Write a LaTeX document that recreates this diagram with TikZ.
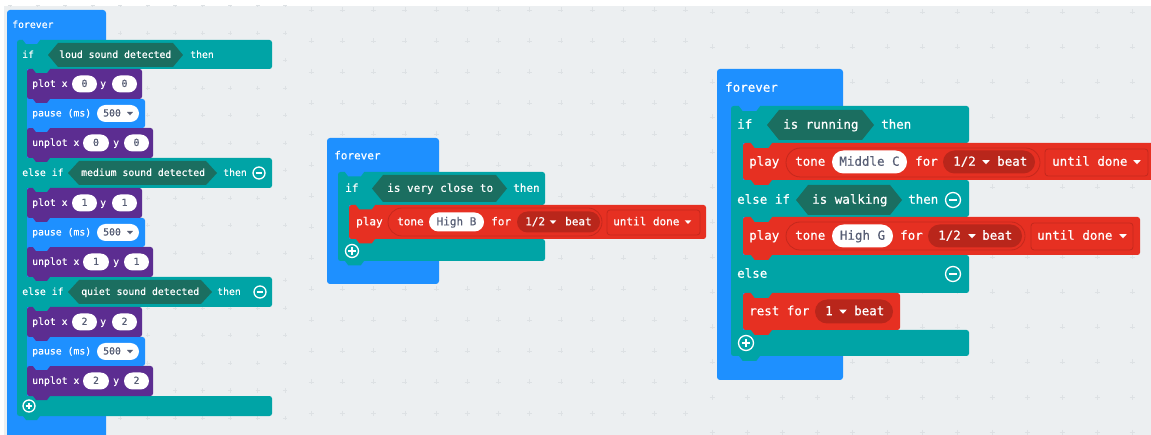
\documentclass[tikz,border=0pt]{standalone}
\usepackage{fontspec}
\setmonofont{DejaVu Sans Mono}
\newfontfamily\blkfont[FakeBold=0.5]{DejaVu Sans Mono}
\definecolor{bg}{HTML}{ECEFF1}
\definecolor{gridmk}{HTML}{DDE1E4}
\definecolor{fblue}{HTML}{1E90FF}
\definecolor{lteal}{HTML}{00A4A6}
\definecolor{hexc}{HTML}{1B6E60}
\definecolor{ledp}{HTML}{5C2D91}
\definecolor{mred}{HTML}{E63022}
\definecolor{mdark}{HTML}{B9261B}
\definecolor{mline}{HTML}{C4281D}
\definecolor{pilltxt}{HTML}{575E75}
\tikzset{
 tL/.style={font=\fontsize{9.8}{11}\blkfont, text=white, anchor=west, inner sep=0pt, text height=5.9pt, text depth=0pt},
 tM/.style={font=\fontsize{11}{12}\blkfont, text=white, anchor=west, inner sep=0pt, text height=6.6pt, text depth=0pt},
 tR/.style={font=\fontsize{12.5}{14}\blkfont, text=white, anchor=west, inner sep=0pt, text height=7.5pt, text depth=0pt},
 gL/.style={tL, text=pilltxt, anchor=center},
 gM/.style={tM, text=pilltxt, anchor=center},
 gR/.style={tR, text=pilltxt, anchor=center},
 gridmark/.style={draw=gridmk, line width=0.6pt},
 outl/.style={fill=mred, draw=mline, line width=0.8pt}
}
% tab below a block: color, x, y (bottom edge), width, depth
\newcommand{\mkTab}[5]{\fill[#1] (#2,#3-1) -- (#2,#3) -- ({#2+0.75*#5},{#3+#5}) -- ({#2+#4-0.75*#5},{#3+#5}) -- ({#2+#4},#3) -- ({#2+#4},#3-1) -- cycle;}
% block: color, x1, y1, x2, y2, tab offset, tab width, tab depth
\newcommand{\mkBlk}[8]{\fill[#1,rounded corners=2.5pt] (#2,#3) rectangle (#4,#5);\mkTab{#1}{#2+#6}{#5}{#7}{#8}}
% pill: color, x1, x2, ymid, half height
\newcommand{\mkPill}[5]{\fill[#1,rounded corners=#5pt] (#2,{#4-#5}) rectangle (#3,{#4+#5});}
% triangle: x, y, half width, color
\newcommand{\mkTri}[4]{\fill[#4] ({#1-#3},{#2-0.5*#3}) -- ({#1+#3},{#2-0.5*#3}) -- (#1,{#2+0.6*#3}) -- cycle;}
% hexagon: xl, xr, y1, y2, d
\newcommand{\mkHex}[5]{\fill[hexc] (#1,{(#3+#4)/2}) -- ({#1+#5},#3) -- ({#2-#5},#3) -- (#2,{(#3+#4)/2}) -- ({#2-#5},#4) -- ({#1+#5},#4) -- cycle;}
\newcommand{\mkMinus}[3]{\draw[white,line width=1.3pt] (#1,#2) circle[radius=#3pt];\draw[white,line width=1.5pt] ({#1-0.55*#3},#2) -- ({#1+0.55*#3},#2);}
\newcommand{\mkPlus}[3]{\mkMinus{#1}{#2}{#3}\draw[white,line width=1.5pt] (#1,{#2-0.55*#3}) -- (#1,{#2+0.55*#3});}
% left rows
\newcommand{\plotL}[3]{%
 \node[tL] (#3l) at (32,#1) {plot x};
 \mkPill{white}{72}{97}{#1}{8.5}
 \node[gL] (#3x) at (84.5,#1) {#2};
 \node[tL] (#3y) at (100,#1) {y};
 \mkPill{white}{112}{137}{#1}{8.5}
 \node[gL] (#3v) at (124.5,#1) {#2};}
\newcommand{\unplotL}[3]{%
 \node[tL] (#3l) at (32,#1) {unplot x};
 \mkPill{white}{83}{109}{#1}{8.5}
 \node[gL] (#3x) at (96,#1) {#2};
 \node[tL] (#3y) at (113,#1) {y};
 \mkPill{white}{124}{149}{#1}{8.5}
 \node[gL] (#3v) at (136.5,#1) {#2};}
\newcommand{\pauseL}[2]{%
 \node[tL] (#2l) at (32,#1) {pause (ms)};
 \mkPill{white}{97}{139}{#1}{8.5}
 \node[gL,anchor=west] (#2v) at (103,#1) {500};
 \mkTri{130}{#1}{3}{pilltxt}}
\begin{document}
\begin{tikzpicture}[x=1pt,y=-1pt]
\useasboundingbox (0,0) rectangle (1151,435);
\fill[white] (0,0) rectangle (1151,435);
\fill[bg] (4,6) rectangle (1151,435);
% grids
\begin{scope}
\clip (4,6) rectangle (300,435);
\foreach \i in {0,...,10} \foreach \j in {0,...,15} {\draw[gridmark] ({10+27.5*\i},{5.5+27.5*\j}) +(-2,0) -- +(2,0) +(0,-2) -- +(0,2);}
\end{scope}
\begin{scope}
\clip (300,6) rectangle (700,435);
\foreach \i in {0,...,14} \foreach \j in {0,...,14} {\draw[gridmark] ({280+31.2*\i},{10+31*\j}) +(-2.5,0) -- +(2.5,0) +(0,-2.5) -- +(0,2.5);}
\end{scope}
\begin{scope}
\clip (700,6) rectangle (1151,435);
\foreach \i in {0,...,13} \foreach \j in {0,...,12} {\draw[gridmark] ({712+35*\i},{12+35*\j}) +(-2.5,0) -- +(2.5,0) +(0,-2.5) -- +(0,2.5);}
\end{scope}

% ================= LEFT =================
\fill[fblue,rounded corners=3pt] (7,10) rectangle (106,438);
\fill[lteal,rounded corners=2.5pt] (17,40) rectangle (272,69);
\fill[lteal] (17,45) rectangle (27,410);
\fill[lteal,rounded corners=2.5pt] (17,158) rectangle (272,188);
\fill[lteal,rounded corners=2.5pt] (17,277) rectangle (272,307);
\fill[lteal,rounded corners=2.5pt] (17,396) rectangle (272,416);
\mkTab{lteal}{23}{416}{17}{4}
\mkBlk{ledp}{27}{366}{153}{396}{6}{17}{4}
\mkBlk{fblue}{27}{337}{145}{366}{6}{17}{4}
\mkBlk{ledp}{27}{307}{142}{337}{6}{17}{4}
\mkBlk{ledp}{27}{247}{153}{277}{6}{17}{4}
\mkBlk{fblue}{27}{218}{145}{247}{6}{17}{4}
\mkBlk{ledp}{27}{188}{142}{218}{6}{17}{4}
\mkBlk{ledp}{27}{128}{153}{158}{6}{17}{4}
\mkBlk{fblue}{27}{99}{145}{128}{6}{17}{4}
\mkBlk{ledp}{27}{69}{142}{99}{6}{17}{4}
\mkTab{lteal}{33}{69}{17}{4}
\mkTab{lteal}{33}{188}{17}{4}
\mkTab{lteal}{33}{307}{17}{4}
\mkTab{fblue}{23}{40}{17}{4}

\node[tL] (lfor) at (12,25) {forever};
\node[tL] (lif) at (22,55) {if};
\mkHex{48}{183}{43}{67}{10}
\node[tL] (lc1) at (59,55) {loud sound detected};
\node[tL] (lth1) at (190,55) {then};
\plotL{84}{0}{pa}
\pauseL{113.5}{qa}
\unplotL{143}{0}{ua}
\node[tL] (lei1) at (22,173) {else if};
\mkHex{68}{217}{161}{185}{11}
\node[tL] (lc2) at (81,173) {medium sound detected};
\node[tL] (lth2) at (223,173) {then};
\mkMinus{259}{173}{6}
\plotL{203}{1}{pb}
\pauseL{232.5}{qb}
\unplotL{262}{1}{ub}
\node[tL] (lei2) at (22,292) {else if};
\mkHex{68}{212}{280}{304}{11}
\node[tL] (lc3) at (81,292) {quiet sound detected};
\node[tL] (lth3) at (217,292) {then};
\mkMinus{260}{292}{6}
\plotL{322}{2}{pc}
\pauseL{351.5}{qc}
\unplotL{381}{2}{uc}
\mkPlus{29}{406}{6}

% ================= MIDDLE =================
\fill[fblue,rounded corners=3pt] (327,138) rectangle (439,284);
\fill[lteal,rounded corners=2.5pt] (338,172) rectangle (545,205);
\fill[lteal] (338,177) rectangle (349,255);
\fill[lteal,rounded corners=2.5pt] (338,239) rectangle (545,261);
\mkTab{lteal}{345}{261}{19}{4.5}
\mkBlk{mred}{349}{205}{706}{239}{7}{19}{4.5}
\mkTab{lteal}{356}{205}{19}{4.5}
\mkTab{fblue}{345}{172}{19}{4.5}

\node[tM] (mfor) at (334,156) {forever};
\node[tM] (mif) at (345,188.5) {if};
\mkHex{372}{507}{175}{202}{11}
\node[tM] (mc) at (387,188.5) {is very close to};
\node[tM] (mth) at (513,188.5) {then};
\node[tM] (mplay) at (356,222) {play};
\filldraw[outl,rounded corners=14pt] (388,208) rectangle (602,236);
\node[tM] (mtone) at (397,222) {tone};
\mkPill{white}{429}{484}{222}{9.5}
\node[gM] (mnote) at (456.5,222) {High B};
\node[tM] (mfr) at (491,222) {for};
\mkPill{mdark}{517}{600}{222}{10.5}
\node[tM] (mdur) at (525,222) {1/2};
\mkTri{553}{222}{3.3}{white}
\node[tM] (mbeat) at (565,222) {beat};
\filldraw[outl,rounded corners=3pt] (607,210) rectangle (700,235);
\node[tM] (mud) at (613,222) {until done};
\mkTri{688}{222}{3.3}{white}
\mkPlus{352}{251}{6.5}

% ================= RIGHT =================
\fill[fblue,rounded corners=3pt] (717,69) rectangle (843,380);
\fill[lteal,rounded corners=2.5pt] (731,106) rectangle (969,143);
\fill[lteal] (731,111) rectangle (743,350);
\fill[lteal,rounded corners=2.5pt] (731,180) rectangle (969,217);
\fill[lteal,rounded corners=2.5pt] (731,255) rectangle (969,293);
\fill[lteal,rounded corners=2.5pt] (731,330) rectangle (969,356);
\mkTab{lteal}{739}{356}{21}{5}
\mkBlk{mred}{743}{293}{900}{330}{8}{21}{5}
\mkBlk{mred}{743}{217}{1140}{255}{8}{21}{5}
\mkBlk{mred}{743}{143}{1160}{180}{8}{21}{5}
\mkTab{lteal}{751}{143}{21}{5}
\mkTab{lteal}{751}{217}{21}{5}
\mkTab{lteal}{751}{293}{21}{5}
\mkTab{fblue}{739}{106}{21}{5}

\node[tR] (rfor) at (725,88) {forever};
\node[tR] (rif) at (737,125) {if};
\mkHex{767}{874}{110}{140}{12}
\node[tR] (rc1) at (783,125) {is running};
\node[tR] (rth1) at (881,125) {then};
% play 1
\node[tR] (rp1) at (749,162) {play};
\filldraw[outl,rounded corners=14.5pt] (786,148) rectangle (1040,177);
\node[tR] (rt1) at (795,162) {tone};
\mkPill{white}{832}{907}{162}{11.5}
\node[gR] (rn1) at (869.5,162) {Middle C};
\node[tR] (rf1) at (915,162) {for};
\mkPill{mdark}{943}{1035}{162}{11.5}
\node[tR] (rd1) at (953,162) {1/2};
\mkTri{986}{162}{3.8}{white}
\node[tR] (rb1) at (997,162) {beat};
\filldraw[outl,rounded corners=3pt] (1045,149) rectangle (1148,176);
\node[tR] (ru1) at (1052,162) {until done};
\mkTri{1137}{162}{3.8}{white}
% else if
\node[tR] (rei) at (737,200) {else if};
\mkHex{796}{902}{185}{215}{12}
\node[tR] (rc2) at (812,200) {is walking};
\node[tR] (rth2) at (908,200) {then};
\mkMinus{953}{200}{7.5}
% play 2
\node[tR] (rp2) at (749,236) {play};
\filldraw[outl,rounded corners=14pt] (786,222) rectangle (1025,250);
\node[tR] (rt2) at (795,236) {tone};
\mkPill{white}{832}{893}{236}{11.5}
\node[gR] (rn2) at (862.5,236) {High G};
\node[tR] (rf2) at (900,236) {for};
\mkPill{mdark}{928}{1022}{236}{11.5}
\node[tR] (rd2) at (938,236) {1/2};
\mkTri{972}{236}{3.8}{white}
\node[tR] (rb2) at (982,236) {beat};
\filldraw[outl,rounded corners=3pt] (1031,223) rectangle (1133,250);
\node[tR] (ru2) at (1037,236) {until done};
\mkTri{1123}{236}{3.8}{white}
% else
\node[tR] (rel) at (737,274) {else};
\mkMinus{953}{274}{7.5}
% rest
\node[tR] (rrest) at (749,311.5) {rest for};
\mkPill{mdark}{815}{893}{311.5}{12}
\node[tR] (rd3) at (825,311.5) {1};
\mkTri{843}{311.5}{3.8}{white}
\node[tR] (rb3) at (854,311.5) {beat};
\mkPlus{746}{343}{7.5}
\end{tikzpicture}
\end{document}
